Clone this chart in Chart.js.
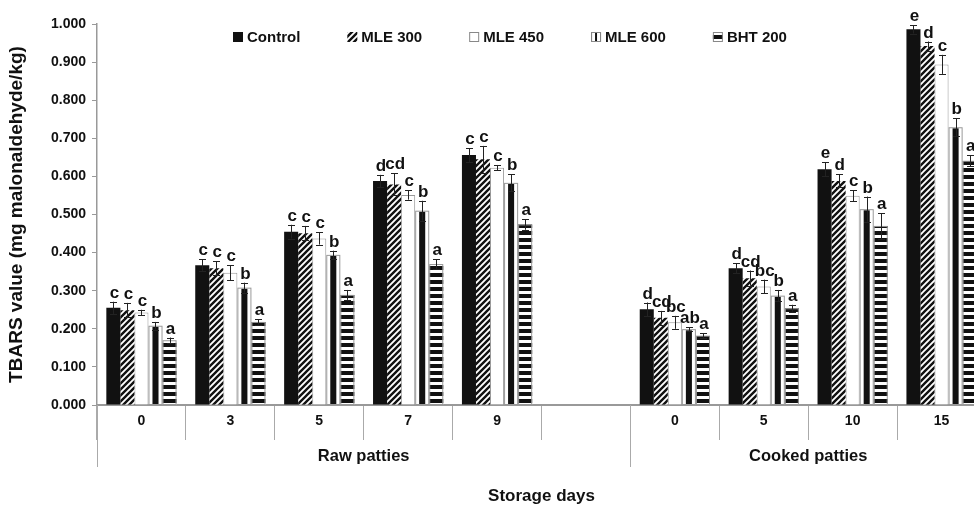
<!DOCTYPE html>
<html><head><meta charset="utf-8">
<script src="https://cdn.jsdelivr.net/npm/chart.js@4/dist/chart.umd.min.js"></script>
<style>
html,body{margin:0;padding:0;background:#fff;overflow:hidden}
#wrap{width:974px;height:511px;overflow:hidden;position:relative}
#c{position:absolute;left:0;top:0}
</style></head><body>
<div id="wrap"><canvas id="c" width="990" height="511"></canvas></div>
<script>
// ---- data ----
const categories = ['0','3','5','7','9','','0','5','10','15'];
const groupLabels = ['Raw patties','Cooked patties'];
const groupSizes = [6,4];
const seriesNames = ['Control','MLE 300','MLE 450','MLE 600','BHT 200'];
const yTickLabels = ['0.000','0.100','0.200','0.300','0.400','0.500','0.600','0.700','0.800','0.900','1.000'];

const control = [0.255,0.367,0.455,0.588,0.656,null,0.251,0.359,0.619,0.986];
const mle300  = [0.249,0.359,0.451,0.579,0.645,null,0.229,0.333,0.588,0.942];
const mle450  = [0.243,0.347,0.437,0.551,0.623,null,0.217,0.311,0.549,0.894];
const mle600  = [0.208,0.308,0.394,0.510,0.583,null,0.199,0.287,0.514,0.729];
const bht200  = [0.170,0.218,0.289,0.370,0.474,null,0.182,0.254,0.470,0.641];

const controlErr = [0.016,0.015,0.018,0.016,0.018,null,0.018,0.013,0.018,0.011];
const mle300Err  = [0.019,0.018,0.019,0.029,0.035,null,0.018,0.020,0.017,0.012];
const mle450Err  = [0.007,0.020,0.016,0.012,0.007,null,0.017,0.018,0.014,0.025];
const mle600Err  = [0.010,0.013,0.011,0.026,0.022,null,0.005,0.015,0.033,0.024];
const bht200Err  = [0.007,0.007,0.013,0.013,0.014,null,0.006,0.009,0.033,0.015];

const controlSig = ['c','c','c','d','c','','d','d','e','e'];
const mle300Sig  = ['c','c','c','cd','c','','cd','cd','d','d'];
const mle450Sig  = ['c','c','c','c','c','','bc','bc','c','c'];
const mle600Sig  = ['b','b','b','b','b','','ab','b','b','b'];
const bht200Sig  = ['a','a','a','a','a','','a','a','a','a'];

// ---- patterns ----
function hatchPattern(){
  const c=document.createElement('canvas'); c.width=6; c.height=6;
  const g=c.getContext('2d');
  g.fillStyle='#fff'; g.fillRect(0,0,6,6);
  g.strokeStyle='#111'; g.lineWidth=2.4; g.beginPath();
  g.moveTo(-1,7); g.lineTo(7,-1);
  g.moveTo(-4,4); g.lineTo(4,-4);
  g.moveTo(2,10); g.lineTo(10,2);
  g.stroke();
  return g.createPattern(c,'repeat');
}
function hStripePattern(){
  const c=document.createElement('canvas'); c.width=4; c.height=7;
  const g=c.getContext('2d');
  g.fillStyle='#fff'; g.fillRect(0,0,4,7);
  g.fillStyle='#111'; g.fillRect(0,0,4,4);
  return g.createPattern(c,'repeat');
}
const hatch = hatchPattern();
const hstripe = hStripePattern();

const FONT = "'Liberation Sans', Arial, sans-serif";
const TXT = '#111';

const errs = [controlErr, mle300Err, mle450Err, mle600Err, bht200Err];
const sigs = [controlSig, mle300Sig, mle450Sig, mle600Sig, bht200Sig];

const outlinePlugin = {
  id:'outline',
  afterDatasetsDraw(chart){
    const ctx=chart.ctx;
    ctx.save();
    [3,4].forEach(di=>{
      const meta=chart.getDatasetMeta(di);
      meta.data.forEach((el,i)=>{
        if (chart.data.datasets[di].data[i]==null) return;
        const p=el.getProps(['x','y','base','width'],true);
        ctx.strokeStyle='#999'; ctx.lineWidth=1;
        ctx.strokeRect(p.x-p.width/2+0.5, p.y+0.5, p.width-1, p.base-p.y-0.5);
      });
    });
    ctx.restore();
  }
};

const errorPlugin = {
  id:'errbars',
  afterDatasetsDraw(chart){
    const ctx=chart.ctx, ys=chart.scales.y;
    ctx.save();
    chart.data.datasets.forEach((ds,di)=>{
      const meta=chart.getDatasetMeta(di);
      meta.data.forEach((el,i)=>{
        const v=ds.data[i]; const e=errs[di][i];
        if (v==null) return;
        const x=Math.round(el.x)+0.5;
        const yt=ys.getPixelForValue(v+e), yb=ys.getPixelForValue(v-e);
        ctx.strokeStyle='#222'; ctx.lineWidth=1;
        ctx.beginPath();
        ctx.moveTo(x,yt); ctx.lineTo(x,yb);
        ctx.moveTo(x-3.5,Math.round(yt)+0.5); ctx.lineTo(x+3.5,Math.round(yt)+0.5);
        ctx.moveTo(x-3.5,Math.round(yb)+0.5); ctx.lineTo(x+3.5,Math.round(yb)+0.5);
        ctx.stroke();
        ctx.fillStyle=TXT; ctx.font='bold 17px '+FONT;
        ctx.textAlign='center'; ctx.textBaseline='alphabetic';
        ctx.fillText(sigs[di][i], el.x+1, yt-4);
      });
    });
    ctx.restore();
  }
};

const groupPlugin = {
  id:'groups',
  afterDraw(chart){
    const ctx=chart.ctx, xs=chart.scales.x, area=chart.chartArea;
    const w=(area.right-area.left)/categories.length;
    ctx.save();
    ctx.strokeStyle='#aaa'; ctx.lineWidth=1;
    let start=0;
    const y0=area.bottom;
    groupSizes.forEach((n,gi)=>{
      const xl=xs.getPixelForValue(start)-w/2;
      const xr=xs.getPixelForValue(start+n-1)+w/2;
      ctx.beginPath();
      ctx.moveTo(Math.round(xl)+0.5,y0); ctx.lineTo(Math.round(xl)+0.5,y0+62);
      ctx.moveTo(Math.round(xr)+0.5,y0); ctx.lineTo(Math.round(xr)+0.5,y0+62);
      ctx.stroke();
      ctx.fillStyle=TXT; ctx.font='bold 16.5px '+FONT;
      ctx.textAlign='center'; ctx.textBaseline='middle';
      ctx.fillText(groupLabels[gi], (xl+xr)/2, y0+51);
      start+=n;
    });
    ctx.restore();
  }
};

const legendPlugin = {
  id:'customLegend',
  afterDraw(chart){
    const ctx=chart.ctx, area=chart.chartArea;
    const fills=['#111',hatch,'#fff','#111',hstripe];
    let x=area.left+136; const y=area.top+13;
    ctx.save();
    ctx.font='bold 15px '+FONT; ctx.textBaseline='middle'; ctx.textAlign='left';
    seriesNames.forEach((name,i)=>{
      const bx=x, by=y-5, bs=10;
      ctx.fillStyle=fills[i]; ctx.fillRect(bx,by,bs,bs);
      if(i===3){ ctx.fillStyle='#fff'; ctx.fillRect(bx+1,by+1,3,bs-2); ctx.fillRect(bx+bs-4,by+1,3,bs-2); }
      if(i>=2){ ctx.strokeStyle='#888'; ctx.lineWidth=1; ctx.strokeRect(bx+0.5,by+0.5,bs-1,bs-1); }
      ctx.fillStyle=TXT; ctx.fillText(name,bx+bs+4,y+1);
      x = bx+bs+4+ctx.measureText(name).width+47;
    });
    ctx.restore();
  }
};

const datasets = [
  {label:seriesNames[0], data:control, backgroundColor:'#111', borderWidth:0},
  {label:seriesNames[1], data:mle300, backgroundColor:hatch, borderWidth:0},
  {label:seriesNames[2], data:mle450, backgroundColor:'#fff', borderColor:'#999', borderWidth:1, borderSkipped:'start'},
  {label:seriesNames[3], data:mle600, backgroundColor:'#111', borderColor:'#fff', borderWidth:{left:4,right:4,top:1,bottom:0}, borderSkipped:false},
  {label:seriesNames[4], data:bht200, backgroundColor:hstripe, borderWidth:0}
];

new Chart(document.getElementById('c'), {
  type:'bar',
  data:{labels:categories, datasets},
  options:{
    responsive:false, animation:false, devicePixelRatio:1,
    layout:{padding:{top:24,right:4,left:0,bottom:0}},
    datasets:{bar:{categoryPercentage:0.79, barPercentage:1}},
    plugins:{legend:{display:false}, tooltip:{enabled:false}},
    scales:{
      x:{
        grid:{display:true, drawOnChartArea:false, drawTicks:true, tickLength:35, color:'#aaa', lineWidth:1, offset:true},
        border:{display:true, color:'#999', width:2},
        ticks:{padding:-27, color:TXT, font:{family:FONT, size:14, weight:'bold'}, maxRotation:0, autoSkip:false},
        title:{display:true, text:'Storage days', color:TXT, font:{family:FONT, size:17, weight:'bold'}, padding:{top:0,bottom:4}},
        afterFit(s){ s.height=106; }
      },
      y:{
        min:0, max:1,
        grid:{display:true, drawOnChartArea:false, drawTicks:true, tickLength:5, color:'#999'},
        border:{display:true, color:'#999', width:1.5},
        ticks:{stepSize:0.1, padding:6, color:TXT, font:{family:FONT, size:14, weight:'bold'},
               callback:(v,i)=>yTickLabels[i]},
        title:{display:true, text:'TBARS value (mg malonaldehyde/kg)', color:TXT, font:{family:FONT, size:19, weight:'bold'}, padding:{top:5,bottom:0}},
        afterFit(s){ s.width=97; }
      }
    }
  },
  plugins:[outlinePlugin, errorPlugin, groupPlugin, legendPlugin]
});
</script>
</body></html>
